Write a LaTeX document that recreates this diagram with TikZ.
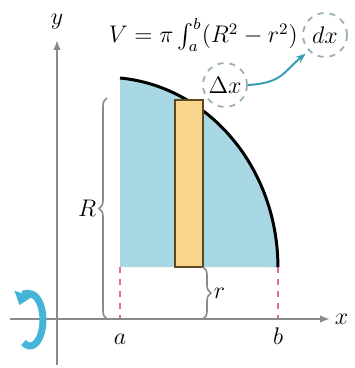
\documentclass[tikz,border=0pt]{standalone}
\usepackage{amsmath,amssymb}
\usepackage{xcolor}
\definecolor{solidbg}{HTML}{A9D8E5}
\definecolor{slicebg}{HTML}{F7D58C}
\definecolor{slicedk}{HTML}{5C4A1E}
\definecolor{axisgr}{HTML}{8A8A8A}
\definecolor{dashpk}{HTML}{E0708C}
\definecolor{circgr}{HTML}{9AAFB5}
\definecolor{linktl}{HTML}{3A9FB3}
\definecolor{spinbl}{HTML}{46B4D6}
\usepackage{tikz}
\usetikzlibrary{arrows.meta,positioning,decorations.pathreplacing,calc}

\begin{document}
\begin{tikzpicture}[x=0.5pt,y=0.5pt,
  axisline/.style={draw=axisgr,line width=0.8pt},
  bracegr/.style={draw=axisgr,line width=0.8pt,decorate,decoration={brace,amplitude=4pt}},
  dashcirc/.style={circle,draw=circgr,dashed,line width=0.9pt,minimum size=22pt,inner sep=0pt},
  ticklbl/.style={font=\large,inner sep=1pt}]
\useasboundingbox (0,0) rectangle (354,368);
\coordinate (ta) at (120,49);
\coordinate (tb) at (278,49);
\coordinate (org) at (57,49);
\fill[solidbg] (120,101) -- (120,290) arc[start angle=85,end angle=0,x radius=173,y radius=190] -- cycle;
\draw[line width=1.5pt] (120,290) arc[start angle=85,end angle=0,x radius=173,y radius=190];
\draw[fill=slicebg,draw=slicedk,line width=1pt] (175,101) rectangle (203,268);
\draw[dashpk,dashed,line width=0.8pt] (120,101) -- (ta);
\draw[dashpk,dashed,line width=0.8pt] (278,101) -- (tb);
\draw[axisline,-{Latex[length=5pt]}] (10,49) -- (330,49) node[right=1pt,ticklbl]{$x$};
\draw[axisline,-{Latex[length=5pt]}] (57,3) -- (57,328) node[above=4pt,ticklbl]{$y$};
\node[ticklbl,anchor=base] (lbla) at ($(ta)+(0,-26)$) {$a$};
\node[ticklbl,anchor=base] (lblb) at ($(tb)+(0,-26)$) {$b$};
\draw[bracegr] (107,49) -- (107,270) node[midway,left=4pt,ticklbl]{$R$};
\draw[bracegr] (203,101) -- (203,49) node[midway,right=4pt,ticklbl]{$r$};
\node[dashcirc,font=\large] (dx) at (325,333) {$dx$};
\node[anchor=east,inner sep=2pt,font=\large] (vol) at (dx.west) {$V=\pi\int_a^b(R^2-r^2)$};
\node[dashcirc,font=\large] (dlt) at (225,283) {$\Delta x$};
\draw[linktl,line width=1pt,-{Stealth[length=5pt]},shorten >=2pt] (dlt.east) .. controls +(35,2) and +(-25,-20) .. (dx.south west);
\coordinate (spin) at (30,48);
\draw[spinbl,line width=3.5pt,-{Triangle[length=6pt,width=9pt]}] (spin) ++(240:13 and 26) arc[start angle=240,end angle=505,x radius=13,y radius=26];
\end{tikzpicture}
\end{document}
